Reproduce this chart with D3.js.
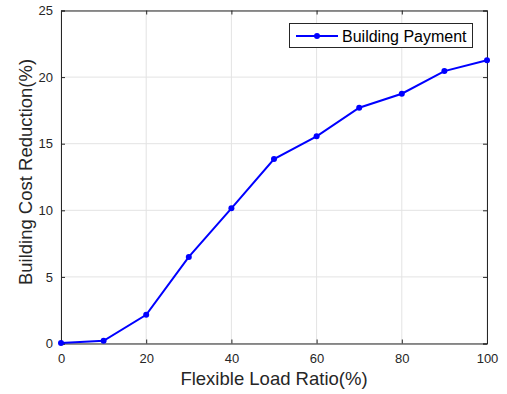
<!DOCTYPE html>
<html><head><meta charset="utf-8">
<script src="https://cdn.jsdelivr.net/npm/d3@7"></script>
<style>body{margin:0;background:#fff;} text{font-family:"Liberation Sans",Arial,sans-serif;}</style>
</head><body><svg id="c" width="507" height="394"></svg>
<script>
const xValues = [0,10,20,30,40,50,60,70,80,90,100];
const payment = [0.03,0.2,2.15,6.5,10.15,13.85,15.55,17.7,18.75,20.45,21.27];
const xTicks = [0,20,40,60,80,100];
const yTicks = [0,5,10,15,20,25];
const seriesName = "Building Payment";
const xLabel = "Flexible Load Ratio(%)";
const yLabel = "Building Cost Reduction(%)";

const svg = d3.select("#c");
const L=61,R=487,T=10.5,B=343.5;
const x = d3.scaleLinear().domain([0,100]).range([L,R]);
const y = d3.scaleLinear().domain([0,25]).range([B,T]);

// grid
svg.append("g").selectAll("line").data(xTicks).join("line")
 .attr("x1",d=>x(d)).attr("x2",d=>x(d)).attr("y1",T).attr("y2",B)
 .attr("stroke","#e3e3e3").attr("stroke-width",1);
svg.append("g").selectAll("line").data(yTicks).join("line")
 .attr("y1",d=>y(d)).attr("y2",d=>y(d)).attr("x1",L).attr("x2",R)
 .attr("stroke","#e3e3e3").attr("stroke-width",1);

const tk=-4;
const fmt = d3.format("d");
const gx = svg.append("g").attr("transform",`translate(0,${B})`)
 .call(d3.axisBottom(x).tickValues(xTicks).tickSize(tk).tickPadding(10).tickFormat(fmt));
const gxt = svg.append("g").attr("transform",`translate(0,${T})`)
 .call(d3.axisTop(x).tickValues(xTicks).tickSize(tk).tickFormat(""));
const gy = svg.append("g").attr("transform",`translate(${L},0)`)
 .call(d3.axisLeft(y).tickValues(yTicks).tickSize(tk).tickPadding(8).tickFormat(fmt));
const gyr = svg.append("g").attr("transform",`translate(${R},0)`)
 .call(d3.axisRight(y).tickValues(yTicks).tickSize(tk).tickFormat(""));
[gx,gxt,gy,gyr].forEach(g=>{
  g.selectAll("path").attr("stroke","#262626").attr("stroke-width",1);
  g.selectAll("line").attr("stroke","#262626");
  g.selectAll("text").attr("fill","#262626").attr("font-size","13px")
   .attr("font-family","Liberation Sans, Arial, sans-serif");
});

const line = d3.line().x((d,i)=>x(xValues[i])).y(d=>y(d));
svg.append("path").datum(payment).attr("d",line)
 .attr("fill","none").attr("stroke","#0000ff").attr("stroke-width",2);
svg.append("g").selectAll("circle").data(payment).join("circle")
 .attr("cx",(d,i)=>x(xValues[i])).attr("cy",d=>y(d)).attr("r",3).attr("fill","#0000ff");

// legend
const lg = svg.append("g");
lg.append("rect").attr("x",289.5).attr("y",23.5).attr("width",183).attr("height",24)
 .attr("fill","#fff").attr("stroke","#262626").attr("stroke-width",1);
lg.append("line").attr("x1",296).attr("x2",338).attr("y1",36).attr("y2",36)
 .attr("stroke","#0000ff").attr("stroke-width",2);
lg.append("circle").attr("cx",317).attr("cy",36).attr("r",3).attr("fill","#0000ff");
lg.append("text").attr("x",342).attr("y",41.5).attr("font-size","16px").attr("fill","#000").text(seriesName);

svg.append("text").attr("x",(L+R)/2).attr("y",385).attr("text-anchor","middle")
 .attr("font-size","18.5px").attr("fill","#262626").text(xLabel);
svg.append("text").attr("transform",`translate(31.5,172) rotate(-90)`).attr("text-anchor","middle")
 .attr("font-size","18.5px").attr("fill","#262626").text(yLabel);
</script></body></html>
